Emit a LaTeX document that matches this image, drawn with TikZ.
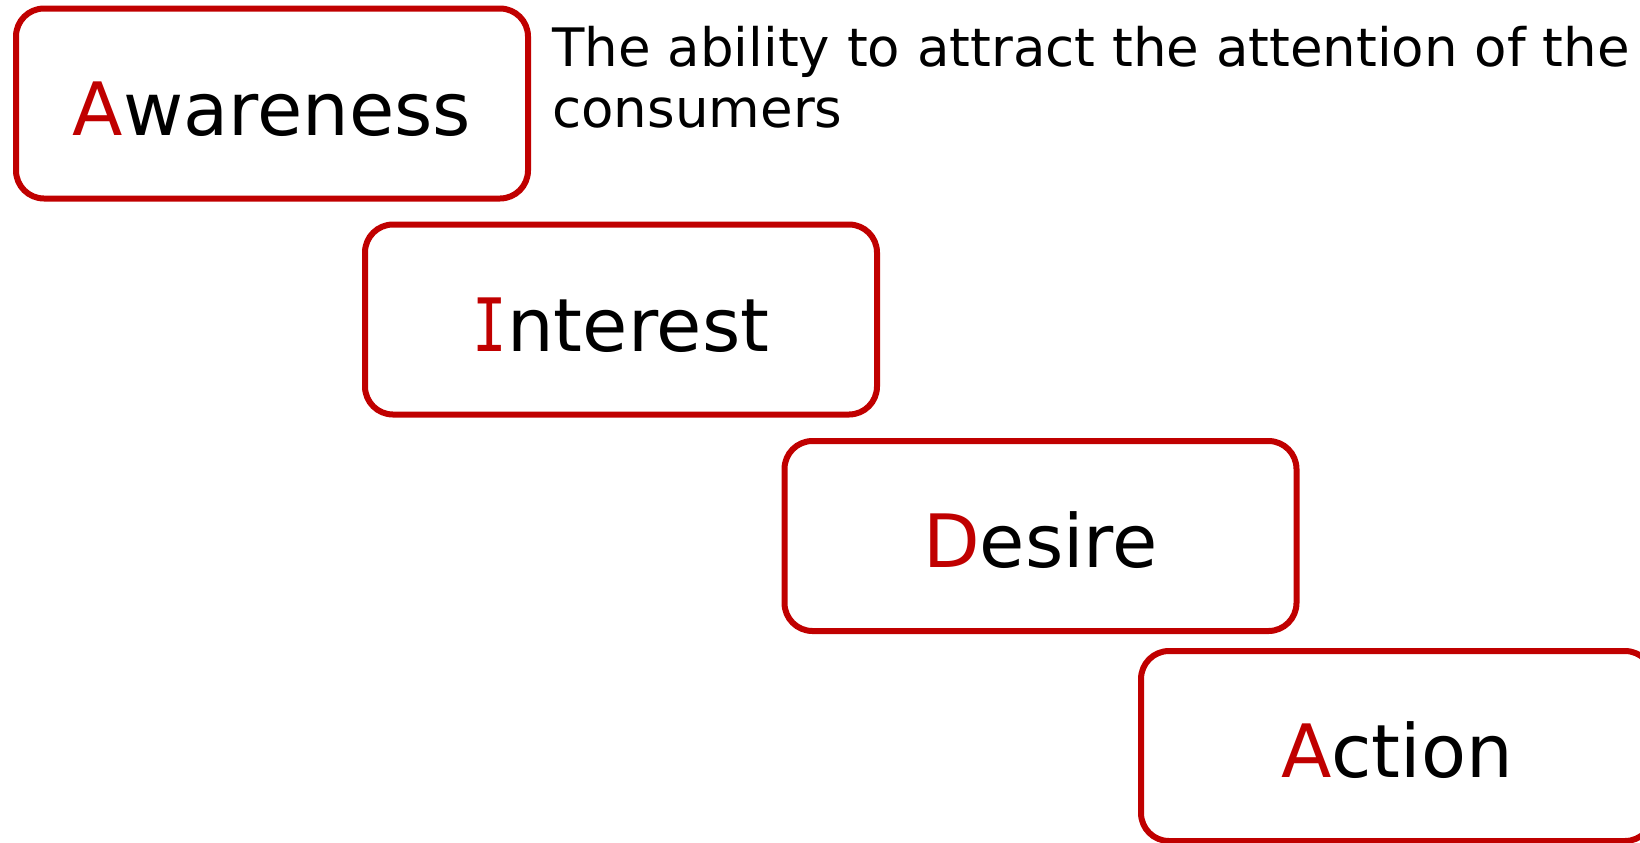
\documentclass[tikz,border=0pt]{standalone}
\usepackage{fontspec}
\setmainfont{DejaVu Sans}
\newfontfamily\slabfont{DejaVu Sans Mono}
\definecolor{aidared}{HTML}{C00000}
\tikzset{
  stagebox/.style={draw=aidared, line width=3pt, rounded corners=14pt, fill=white,
    minimum width=256pt, minimum height=95pt, inner sep=0pt,
    text height=31.8pt, text depth=0pt,
    font=\fontsize{36.8}{40}\selectfont},
  desctext/.style={anchor=base west, inner sep=0pt,
    font=\fontsize{26.5}{29.5}\selectfont}
}
\newcommand{\initial}[1]{\textcolor{aidared}{#1}}
% capital I with bars, narrowed to a sans width
\newcommand{\barI}{\scalebox{0.78}[1]{\slabfont I}}
\begin{document}
\begin{tikzpicture}[x=0.5pt, y=-0.5pt]
  \useasboundingbox (0,0) rectangle (1640,842);
  % the four stages, stepping down to the right
  \node[stagebox] (awareness) at (272,103.5) {\initial{A}wareness};
  \node[stagebox] (interest)  at (621,319.5) {\initial{\barI}nterest};
  \node[stagebox] (desire)    at (1040.5,536) {\initial{D}esire};
  \node[stagebox] (action)    at (1397,746) {\initial{A}ction};
  % description beside the first stage
  \node[desctext] (desc1) at (552,66) {The ability to attract the attention of the};
  \node[desctext] (desc2) at (552,127) {consumers};
\end{tikzpicture}
\end{document}
